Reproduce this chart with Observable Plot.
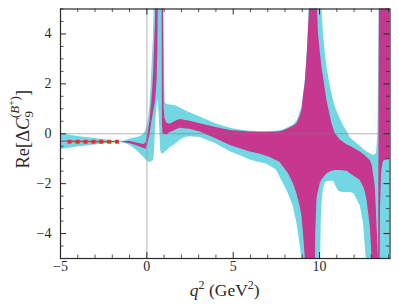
<!DOCTYPE html>
<html><head><meta charset="utf-8">
<script src="https://cdn.jsdelivr.net/npm/d3@7"></script>
<script src="https://cdn.jsdelivr.net/npm/@observablehq/plot@0.6"></script>
<style>body{margin:0;background:#fff}#chart{width:399px;height:308px}</style>
</head><body><div id="chart"></div>
<script>
// Outer (cyan) band
const cyanX  = [-5,-4,-3,-2,-1.55,-1.2,-0.97,-0.7,-0.39,-0.2,-0.1,0,0.1,0.19,0.25,0.32,0.38,0.42,0.45,0.48,0.52,0.58,0.64,0.7,0.76,0.8,0.85,0.96,1.0,1.03,1.06,1.16,1.35,1.54,1.74,1.93,2.2,2.5,3.09,4.0,4.83,5.5,5.98,6.5,6.95,7.5,7.91,8.2,8.49,8.69,8.78,8.9,8.98,9.05,9.17,9.3,9.4,9.45,10.0,10.04,10.1,10.14,10.23,10.35,10.43,10.62,10.81,10.95,11.1,11.2,11.4,11.59,11.78,12.0,12.36,12.55,12.7,12.75,13.13,13.3,13.38,13.42,13.46,14.08];
const cyanLo = [-0.63,-0.53,-0.45,-0.37,-0.33,-0.40,-0.47,-0.60,-0.80,-0.93,-1.00,-1.07,-1.13,-1.15,-1.14,-1.10,-1.05,-0.95,-0.60,-0.10,0.50,1.00,1.40,0.90,0.00,-0.65,-0.80,-0.80,-0.78,-0.76,-0.74,-0.68,-0.55,-0.48,-0.38,-0.25,-0.15,-0.12,-0.15,-0.40,-0.72,-0.90,-1.05,-1.15,-1.22,-1.45,-2.00,-2.40,-2.95,-3.60,-4.00,-4.60,-5.00,-6,-6,-6,-6,-6,-6,-6,-3.5,-2.8,-2.2,-1.95,-1.92,-1.9,-1.9,-2.1,-2.3,-2.33,-2.35,-2.35,-2.35,-2.4,-2.9,-3.6,-5.0,-6,-6,-6,-6,-6,-6,-6];
const cyanHi = [0.0,-0.11,-0.19,-0.28,-0.33,-0.27,-0.21,-0.17,-0.12,-0.03,0.07,0.25,0.6,1.2,2.0,3.0,3.8,5.0,6,6,6,6,6,6,6,6,6,6,4.0,2.2,1.25,1.17,1.15,1.13,1.1,1.03,0.93,0.84,0.67,0.40,0.22,0.14,0.10,0.08,0.08,0.10,0.15,0.25,0.35,0.50,0.65,0.90,1.05,1.4,2.1,3.4,5.0,6,6,6,6,5.0,4.0,3.1,2.67,1.9,1.33,1.0,0.75,0.6,0.3,0.1,-0.15,-0.3,-0.5,-0.62,-0.7,-0.73,-0.87,-0.8,0.0,2.5,6,6];
// Inner (magenta) band; null = gap
const magX  = [-5,-3,-1.8,-1.55,-1.2,-0.97,-0.7,-0.39,-0.2,-0.05,0.05,0.19,0.3,0.4,0.5,0.54,0.6,0.64,0.67,0.68,0.87,0.88,0.9,0.93,0.96,0.98,1.0,1.05,1.16,1.35,1.54,1.74,1.93,2.5,3.09,4.0,4.83,5.98,6.57,7.14,7.72,7.91,8.2,8.49,8.69,8.88,8.98,9.07,9.17,9.2,9.3,9.42,9.45,9.75,9.78,9.85,9.88,9.94,10.04,10.14,10.43,10.72,10.91,11.2,11.6,11.78,12.36,12.6,12.75,12.94,13.04,13.06,13.23,13.35,13.42,13.47,13.5,13.53,13.6,13.7,14.08];
const magLo = [-0.34,-0.345,-0.34,-0.33,-0.37,-0.40,-0.45,-0.53,-0.58,-0.62,-0.45,0.0,0.5,0.9,1.3,1.6,2.2,3.5,6,null,null,6,0.4,0.05,0.0,-0.01,-0.02,-0.03,-0.05,0.05,0.10,0.17,0.22,0.18,0.07,-0.20,-0.47,-0.73,-0.82,-0.95,-1.15,-1.33,-1.6,-2.0,-2.4,-2.93,-3.3,-4.0,-4.93,-6,-6,-6,-6,-6,-4,-2.67,-2.5,-2.3,-2.0,-1.85,-1.6,-1.5,-1.47,-1.47,-1.5,-1.6,-1.87,-2.2,-2.67,-3.73,-5,-6,-6,-6,-6,-6,-6,-3,-1.5,-1.1,-1.0];
const magHi = [-0.29,-0.305,-0.32,-0.33,-0.31,-0.31,-0.35,-0.40,-0.43,-0.38,-0.05,0.53,1.4,2.5,4.5,6,6,6,6,null,null,6,6,6,6,3,1.0,0.6,0.42,0.38,0.45,0.53,0.57,0.50,0.40,0.25,0.13,0.07,0.06,0.06,0.08,0.12,0.2,0.3,0.4,0.7,0.93,1.5,2.0,2.3,3.33,5.0,6,6,6,6,5.0,4.0,3.3,2.67,1.33,0.4,0.0,-0.25,-0.45,-0.5,-0.73,-0.85,-0.95,-1.07,-1.25,-1.3,-2.13,-4,-5.2,6,6,6,6,6,6];
// Red points
const ptsX = [-4.48,-4.01,-3.55,-3.09,-2.64,-2.18,-1.73];
const ptsY = [-0.32,-0.32,-0.32,-0.32,-0.32,-0.32,-0.32];
// Ticks
const xMajor = [-5,0,5,10];
const xMinor = [-4,-3,-2,-1,1,2,3,4,6,7,8,9,11,12,13,14];
const yMajor = [-4,-2,0,2,4];
const yMinor = [-5,-4.5,-3.5,-3,-2.5,-1.5,-1,-0.5,0.5,1,1.5,2.5,3,3.5,4.5,5];

const cyan = cyanX.map((x,i)=>({x, lo:cyanLo[i], hi:cyanHi[i]}));
const mag = magX.map((x,i)=>({x, lo:magLo[i], hi:magHi[i]}));
const pts = ptsX.map((x,i)=>({x, y:ptsY[i]}));

const W=399,H=308,mL=60,mR=9.5,mT=8.5,mB=50;
const fw=W-mL-mR, fh=H-mT-mB;
const FONT = "Liberation Serif";
const ink = "#2a2a2a";
const fmt = d => d<0 ? "\u2212"+Math.abs(d) : String(d);

const plot = Plot.plot({
  width:W, height:H, marginLeft:mL, marginRight:mR, marginTop:mT, marginBottom:mB,
  style:{fontFamily:FONT, background:"#fff", color:ink},
  x:{domain:[-5,14.08], axis:null},
  y:{domain:[-5,5], axis:null},
  marks:[
    Plot.areaY(cyan,{x:"x",y1:"lo",y2:"hi",fill:"#73d6e3",clip:true}),
    Plot.areaY(mag,{x:"x",y1:"lo",y2:"hi",fill:"#c6378f",clip:true}),
    Plot.ruleX([0],{stroke:"#999",strokeOpacity:0.45,strokeWidth:1.6}),
    Plot.ruleY([0],{stroke:"#777",strokeOpacity:0.6,strokeWidth:0.9}),
    Plot.line(pts,{x:"x",y:"y",stroke:"#e0302a",strokeWidth:1.2}),
    Plot.dot(pts,{x:"x",y:"y",symbol:"square",r:2.2,fill:"#e0302a",stroke:null}),
    // ticks inward on all four sides
    Plot.ruleX(xMajor,{insetTop:fh-6,stroke:ink,strokeWidth:1}),
    Plot.ruleX(xMajor,{insetBottom:fh-6,stroke:ink,strokeWidth:1}),
    Plot.ruleX(xMinor,{insetTop:fh-3.5,stroke:ink,strokeWidth:0.8}),
    Plot.ruleX(xMinor,{insetBottom:fh-3.5,stroke:ink,strokeWidth:0.8}),
    Plot.ruleY(yMajor,{insetRight:fw-6,stroke:ink,strokeWidth:1}),
    Plot.ruleY(yMajor,{insetLeft:fw-6,stroke:ink,strokeWidth:1}),
    Plot.ruleY(yMinor,{insetRight:fw-3.5,stroke:ink,strokeWidth:0.8}),
    Plot.ruleY(yMinor,{insetLeft:fw-3.5,stroke:ink,strokeWidth:0.8}),
    Plot.frame({stroke:ink,strokeWidth:1.2}),
    Plot.text(xMajor,{x:d=>d,frameAnchor:"bottom",dy:12,text:fmt,fontSize:14,fontFamily:FONT,fill:ink}),
    Plot.text(yMajor,{y:d=>d,frameAnchor:"left",dx:-9,textAnchor:"end",text:fmt,fontSize:14,fontFamily:FONT,fill:ink})
  ]
});
document.getElementById("chart").appendChild(plot);

const svg = d3.select(plot);
// x-axis title
const xl = svg.append("text").attr("x", mL+fw/2).attr("y", 296).attr("text-anchor","middle")
  .attr("font-family",FONT).attr("font-size",17.5).attr("fill",ink);
xl.append("tspan").attr("font-style","italic").text("q");
xl.append("tspan").attr("font-size",12).attr("dy",-7).text("2");
xl.append("tspan").attr("dy",7).text(" (GeV");
xl.append("tspan").attr("font-size",12).attr("dy",-7).text("2");
xl.append("tspan").attr("dy",7).text(")");
// y-axis title
const yl = svg.append("text").attr("transform",`translate(29,${mT+fh/2-4}) rotate(-90)`).attr("text-anchor","middle")
  .attr("font-family",FONT).attr("font-size",18.5).attr("fill",ink);
yl.append("tspan").text("Re[\u0394");
yl.append("tspan").attr("font-style","italic").text("C");
yl.append("tspan").attr("font-size",13).attr("dy",4).text("9");
yl.append("tspan").attr("font-size",13).attr("dx",-7).attr("dy",-14).text("(");
yl.append("tspan").attr("font-size",13).attr("font-style","italic").text("B");
yl.append("tspan").attr("font-size",9.5).attr("dy",-4).text("+");
yl.append("tspan").attr("font-size",13).attr("dy",4).text(")");
yl.append("tspan").attr("dy",10).text("]");
</script>
</body></html>
